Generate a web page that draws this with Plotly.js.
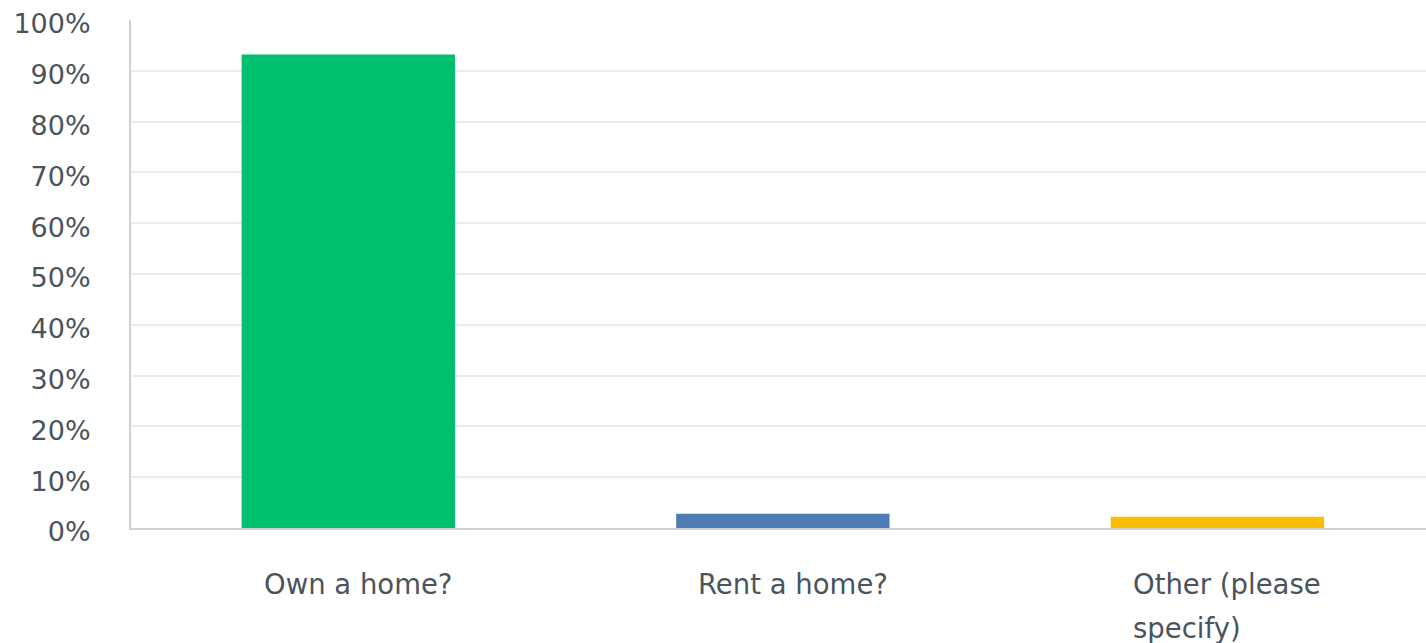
<!DOCTYPE html>
<html>
<head>
<meta charset="utf-8">
<script src="https://cdn.plot.ly/plotly-3.0.1.min.js"></script>
<style>
  html, body { margin: 0; padding: 0; background: #ffffff; }
  #chart { width: 1426px; height: 643px; }
</style>
</head>
<body>
<div id="chart"></div>
<script>
// ---- data ----
const categories = ['Own a home?', 'Rent a home?', 'Other (please specify)'];
const tickLabels = ['Own a home?', 'Rent a home?', 'Other (please<br>specify)'];
const values = [93.2, 2.8, 2.2];
const barColors = ['#00BF6F', '#507CB6', '#F9BE00'];
const yTickVals = [0, 10, 20, 30, 40, 50, 60, 70, 80, 90, 100];
const yTickText = ['0%', '10%', '20%', '30%', '40%', '50%', '60%', '70%', '80%', '90%', '100%'];

const textColor = '#4a545c';
const fontFamily = '"DejaVu Sans", sans-serif';

const trace = {
  type: 'bar',
  x: categories,
  y: values,
  marker: { color: barColors, line: { width: 0 } },
  hoverinfo: 'x+y',
  showlegend: false
};

const annotations = categories.map((c, i) => ({
  xref: 'x', yref: 'paper',
  x: c, y: -0.075,
  xanchor: 'center', yanchor: 'top',
  xshift: 10,
  align: 'left',
  showarrow: false,
  text: tickLabels[i].split('<br>').map(s => '<span style="font-size:27.5px">' + s + '</span>').join('<br>'),
  font: { family: fontFamily, size: 34, color: textColor }
}));

const layout = {
  width: 1426,
  height: 643,
  margin: { l: 131, r: 0, t: 20, b: 115, pad: 0 },
  paper_bgcolor: '#ffffff',
  plot_bgcolor: '#ffffff',
  bargap: 0.509,
  font: { family: fontFamily, color: textColor },
  xaxis: {
    type: 'category',
    range: [-0.5, 2.48],
    showticklabels: false,
    showgrid: false,
    zeroline: false,
    showline: true,
    linecolor: '#d0d0d0',
    linewidth: 2,
    ticks: '',
    fixedrange: true
  },
  yaxis: {
    range: [0, 100],
    tickvals: yTickVals,
    ticktext: yTickText,
    tickfont: { family: fontFamily, size: 27, color: textColor },
    showgrid: true,
    gridcolor: '#ebebeb',
    gridwidth: 1.5,
    zeroline: false,
    showline: true,
    linecolor: '#d0d0d0',
    linewidth: 2,
    ticks: '',
    ticklabelstandoff: 33,
    ticklabelshift: 4,
    fixedrange: true
  },
  annotations: annotations
};

Plotly.newPlot('chart', [trace], layout, { displayModeBar: false, staticPlot: false, responsive: false });
</script>
</body>
</html>
